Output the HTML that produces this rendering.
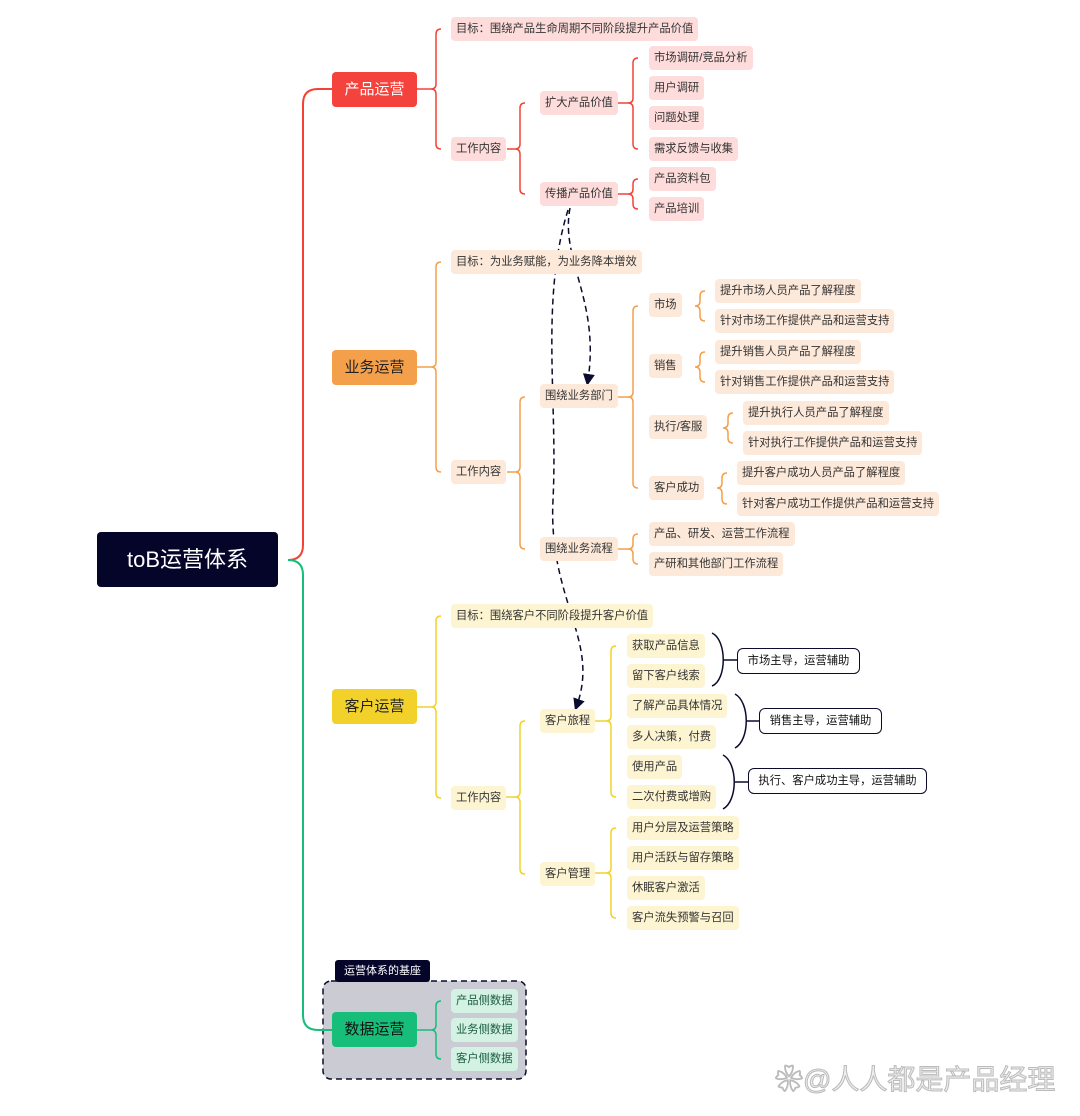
<!DOCTYPE html>
<html><head><meta charset="utf-8"><style>
body{margin:0;width:1080px;height:1116px;background:#fff;position:relative;overflow:hidden;font-family:"Liberation Sans","Noto Sans CJK SC",sans-serif}
.n{position:absolute;height:24px;line-height:24px;font-size:11.3px;padding:0 5px;border-radius:4px;box-sizing:border-box;white-space:nowrap;color:#333}
.p{background:#fddcdb}.o{background:#fde9da}.y{background:#fdf4d2}.g{background:#d3f2e3;color:#1a5a40}
.L{position:absolute;height:35px;line-height:35px;width:85px;left:332px;text-align:center;font-size:15px;border-radius:4px}
.c{position:absolute;height:26px;line-height:24px;font-size:11.3px;border:1.5px solid #0b0b2e;border-radius:6px;text-align:center;box-sizing:border-box;background:#fff;color:#111}
svg{position:absolute;left:0;top:0}
</style></head><body>
<svg width="1080" height="1116">
<defs><marker id="a" markerWidth="8" markerHeight="8" refX="4" refY="4" orient="auto"><path d="M0 0L8 4L0 8z" fill="#0b0b2e"/></marker></defs>
<rect x="323" y="981" width="203" height="98" rx="8" fill="#cbcbd3" stroke="#0b0b2e" stroke-width="1.5" stroke-dasharray="6 4"/>
<rect x="335" y="960" width="95" height="22" rx="3" fill="#05052a"/>
<g fill="none" stroke-width="2">
<path d="M288 560Q303 560 303 545L303 104Q303 89 318 89L332 89" stroke="#f44336"/>
<path d="M288 560Q303 560 303 575L303 1015Q303 1030 318 1030L332 1030" stroke="#16be7a"/>
</g>
<g fill="none" stroke-width="1.5">
<g stroke="#f44336">
<path d="M417 89L431 89M441 29Q436 29 436 34L436 84Q436 89 431 89Q436 89 436 94L436 144Q436 149 441 149"/>
<path d="M507 149L515 149M525 103Q520 103 520 108L520 144Q520 149 515 149Q520 149 520 154L520 189Q520 194 525 194"/>
<path d="M617 103L628 103M638 58Q633 58 633 63L633 98Q633 103 628 103Q633 103 633 108L633 144Q633 149 638 149"/>
<path d="M617 194L628 194M638 179Q633 179 633 184L633 189Q633 194 628 194Q633 194 633 199L633 204Q633 209 638 209"/>
</g>
<g stroke="#f4a04a">
<path d="M417 367L431 367M441 262Q436 262 436 267L436 362Q436 367 431 367Q436 367 436 372L436 467Q436 472 441 472"/>
<path d="M507 472L515 472M525 397Q520 397 520 402L520 467Q520 472 515 472Q520 472 520 477L520 544Q520 549 525 549"/>
<path d="M617 397L628 397M638 306Q633 306 633 311L633 392Q633 397 628 397Q633 397 633 402L633 483Q633 488 638 488"/>
<path d="M705 291Q700 291 700 296L700 301Q700 306 695 306Q700 306 700 311L700 316Q700 321 705 321"/>
<path d="M705 352Q700 352 700 357L700 362Q700 367 695 367Q700 367 700 372L700 377Q700 382 705 382"/>
<path d="M733 413Q728 413 728 418L728 423Q728 428 723 428Q728 428 728 433L728 438Q728 443 733 443"/>
<path d="M727 473Q722 473 722 478L722 483Q722 488 717 488Q722 488 722 493L722 499Q722 504 727 504"/>
<path d="M617 549L628 549M638 534Q633 534 633 539L633 544Q633 549 628 549Q633 549 633 554L633 559Q633 564 638 564"/>
</g>
<g stroke="#f2d22a">
<path d="M417 707L431 707M441 616Q436 616 436 621L436 702Q436 707 431 707Q436 707 436 712L436 793Q436 798 441 798"/>
<path d="M506 797L515 797M525 721Q520 721 520 726L520 792Q520 797 515 797Q520 797 520 802L520 869Q520 874 525 874"/>
<path d="M593 721L606 721M616 646Q611 646 611 651L611 716Q611 721 606 721Q611 721 611 726L611 792Q611 797 616 797"/>
<path d="M593 873L606 873M616 828Q611 828 611 833L611 868Q611 873 606 873Q611 873 611 878L611 913Q611 918 616 918"/>
</g>
<path stroke="#16be7a" d="M417 1030L431 1030M441 1001Q436 1001 436 1006L436 1025Q436 1030 431 1030Q436 1030 436 1035L436 1054Q436 1059 441 1059"/>
<g stroke="#0b0b2e">
<path d="M712 633C727 640 727 680 712 686M724 660L737 660"/>
<path d="M735 694C750 702 750 740 735 748M747 721L759 721"/>
<path d="M723 755C738 763 738 801 723 809M735 782L748 782"/>
</g>
<g stroke="#0b0b2e" stroke-dasharray="6 4">
<path d="M570 208C560 260 600 300 588 380" marker-end="url(#a)"/>
<path d="M568 210C540 300 558 400 553 500C548 600 600 640 577 705" marker-end="url(#a)"/>
</g>
</g>
</svg>
<div style="position:absolute;left:97px;top:532px;width:181px;height:55px;background:#05052a;border-radius:4px;color:#fff;font-size:22px;line-height:55px;text-align:center">toB运营体系</div>
<div class="L" style="top:72px;background:#f4433c;color:#fff">产品运营</div>
<div class="L" style="top:350px;background:#f4a04a;color:#222">业务运营</div>
<div class="L" style="top:689px;background:#f2d22a;color:#222">客户运营</div>
<div class="L" style="top:1012px;background:#16be7a;color:#111">数据运营</div>
<div style="position:absolute;left:335px;top:960px;width:95px;height:22px;line-height:22px;color:#fff;font-size:11px;text-align:center">运营体系的基座</div>

<div class="n p" style="left:451px;top:17px">目标：围绕产品生命周期不同阶段提升产品价值</div>
<div class="n p" style="left:451px;top:137px">工作内容</div>
<div class="n p" style="left:540px;top:91px">扩大产品价值</div>
<div class="n p" style="left:540px;top:182px">传播产品价值</div>
<div class="n p" style="left:649px;top:46px">市场调研/竞品分析</div>
<div class="n p" style="left:649px;top:76px">用户调研</div>
<div class="n p" style="left:649px;top:106px">问题处理</div>
<div class="n p" style="left:649px;top:137px">需求反馈与收集</div>
<div class="n p" style="left:649px;top:167px">产品资料包</div>
<div class="n p" style="left:649px;top:197px">产品培训</div>

<div class="n o" style="left:451px;top:250px">目标：为业务赋能，为业务降本增效</div>
<div class="n o" style="left:451px;top:460px">工作内容</div>
<div class="n o" style="left:540px;top:384px">围绕业务部门</div>
<div class="n o" style="left:540px;top:537px">围绕业务流程</div>
<div class="n o" style="left:649px;top:293px">市场</div>
<div class="n o" style="left:649px;top:354px">销售</div>
<div class="n o" style="left:649px;top:415px">执行/客服</div>
<div class="n o" style="left:649px;top:476px">客户成功</div>
<div class="n o" style="left:715px;top:279px">提升市场人员产品了解程度</div>
<div class="n o" style="left:715px;top:309px">针对市场工作提供产品和运营支持</div>
<div class="n o" style="left:715px;top:340px">提升销售人员产品了解程度</div>
<div class="n o" style="left:715px;top:370px">针对销售工作提供产品和运营支持</div>
<div class="n o" style="left:743px;top:401px">提升执行人员产品了解程度</div>
<div class="n o" style="left:743px;top:431px">针对执行工作提供产品和运营支持</div>
<div class="n o" style="left:737px;top:461px">提升客户成功人员产品了解程度</div>
<div class="n o" style="left:737px;top:492px">针对客户成功工作提供产品和运营支持</div>
<div class="n o" style="left:649px;top:522px">产品、研发、运营工作流程</div>
<div class="n o" style="left:649px;top:552px">产研和其他部门工作流程</div>

<div class="n y" style="left:451px;top:604px">目标：围绕客户不同阶段提升客户价值</div>
<div class="n y" style="left:451px;top:786px">工作内容</div>
<div class="n y" style="left:540px;top:709px">客户旅程</div>
<div class="n y" style="left:540px;top:862px">客户管理</div>
<div class="n y" style="left:627px;top:634px">获取产品信息</div>
<div class="n y" style="left:627px;top:664px">留下客户线索</div>
<div class="n y" style="left:627px;top:694px">了解产品具体情况</div>
<div class="n y" style="left:627px;top:725px">多人决策，付费</div>
<div class="n y" style="left:627px;top:755px">使用产品</div>
<div class="n y" style="left:627px;top:785px">二次付费或增购</div>
<div class="n y" style="left:627px;top:816px">用户分层及运营策略</div>
<div class="n y" style="left:627px;top:846px">用户活跃与留存策略</div>
<div class="n y" style="left:627px;top:876px">休眠客户激活</div>
<div class="n y" style="left:627px;top:906px">客户流失预警与召回</div>
<div class="c" style="left:737px;top:648px;width:123px">市场主导，运营辅助</div>
<div class="c" style="left:759px;top:708px;width:123px">销售主导，运营辅助</div>
<div class="c" style="left:748px;top:768px;width:179px">执行、客户成功主导，运营辅助</div>

<div class="n g" style="left:451px;top:989px">产品侧数据</div>
<div class="n g" style="left:451px;top:1018px">业务侧数据</div>
<div class="n g" style="left:451px;top:1047px">客户侧数据</div>

<div style="position:absolute;left:775px;top:1058px;font-size:28px;color:#eee;-webkit-text-stroke:1px #bbb;white-space:nowrap">❀@人人都是产品经理</div>
</body></html>
